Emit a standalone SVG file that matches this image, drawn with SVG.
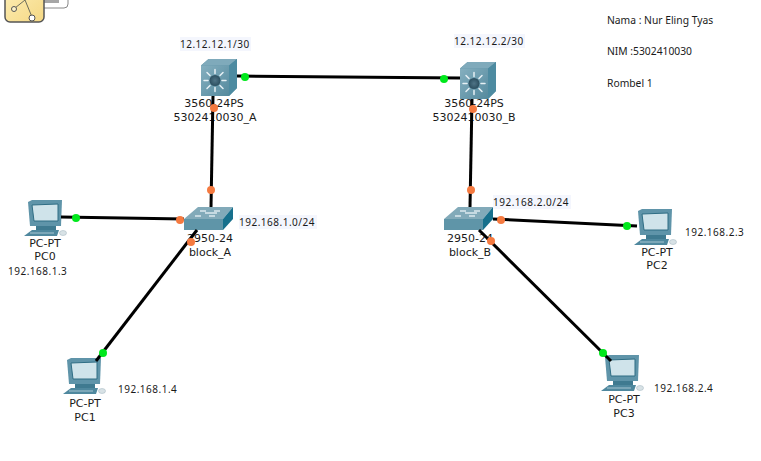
<svg xmlns="http://www.w3.org/2000/svg" width="761" height="461" viewBox="0 0 761 461">
<style>
text{font-family:"DejaVu Sans",sans-serif;font-size:11px;fill:#1a1a1a}
.m{text-anchor:middle}
.ip{font-family:"Noto Sans","DejaVu Sans",sans-serif;font-size:10px;letter-spacing:.5px}
.nt{font-family:"Noto Sans","DejaVu Sans",sans-serif;font-size:10.300px}
.ipbg{fill:#f4f6fd}
.link{stroke:#000;stroke-width:3;fill:none}
.g{fill:#00e81c}.o{fill:#f57a40}
</style>
<defs>
<linearGradient id="fr" x1="0" y1="0" x2="1" y2="1"><stop offset="0" stop-color="#85afbf"/><stop offset="1" stop-color="#558a9e"/></linearGradient>
<linearGradient id="yl" x1="0" y1="0" x2="1" y2="1"><stop offset="0" stop-color="#fdeeb5"/><stop offset="1" stop-color="#f5d884"/></linearGradient>
<radialGradient id="hub"><stop offset="0" stop-color="#4f7486"/><stop offset="1" stop-color="#2c4f60"/></radialGradient>
<g id="router">
<path d="M0 6.500L7.500 0H36V29L28 37H0Z" fill="#5c91a5"/>
<path d="M0 6.500L7.500 0H36L28 6.500Z" fill="#7faabb"/>
<path d="M28 6.500L36 0V29L28 37Z" fill="#4d8ba1"/>
<rect y="6.500" width="28" height="30.500" fill="url(#fr)"/>
<g stroke="#e6f0f4" stroke-width="1.500" stroke-linecap="round">
<path d="M14 10.500V14.500M14 28.500V32.500M3 21.500H7M21 21.500H25M6 13.500L9 16.500M19 26.500L22 29.500M22 13.500L19 16.500M9 26.500L6 29.500"/>
</g>
<circle cx="14" cy="21.500" r="5.500" fill="url(#hub)"/>
</g>
<g id="switch">
<path d="M0 12L14 0H49L39 12Z" fill="#82aab9"/>
<path d="M0 12H39V23H0Z" fill="#5f95a8"/>
<path d="M39 12L49 0V12L39 23Z" fill="#17708c"/>
<path d="M16 4H22M30 4H36M11 9H17M25 9H31M21 6L33 6" stroke="#dce9ee" stroke-width="1.400"/>
</g>
<g id="pc">
<path d="M1 2L5 0H35L34 26H3Z" fill="#5f94a9"/>
<path d="M5 5L31 4V21H7Z" fill="#cfe3ea" stroke="#2f6d84"/>
<path d="M9 26H29V30H9Z" fill="#3f7a90"/>
<path d="M5 30H32L30 36H-3Z" fill="#4f889e"/>
<path d="M3 33H27" stroke="#a9c6d2"/>
<ellipse cx="36" cy="33" rx="3.500" ry="2.500" fill="#d8e2e6" stroke="#9eb3bc" stroke-width=".5"/>
</g>
</defs>

<g id="note-icon">
<rect x="40" y="-6" width="28" height="14" rx="4" fill="#fff" stroke="#888"/>
<rect x="44" y="-4" width="15" height="7" fill="#a6a6a6"/>
<rect x="5" y="-12" width="39" height="34" rx="5" fill="url(#yl)" stroke="#555" stroke-width="1.500"/>
<path d="M15 8L25 0L32 17" fill="none" stroke="#6b6b5a"/>
<circle cx="14" cy="9" r="2.500" fill="#fdf3c8" stroke="#555"/>
<circle cx="32" cy="18" r="3" fill="#fff" stroke="#555"/>
</g>

<g id="note-text">
<text class="nt" x="607" y="24">Nama : Nur Eling Tyas</text>
<text class="nt" x="607" y="55">NIM :5302410030</text>
<text class="nt" x="607" y="87">Rombel 1</text>
</g>

<g id="router-a">
<use href="#router" x="201" y="59"/>
<text class="m" x="214" y="107">3560-24PS</text>
<text class="m" x="215" y="121">5302410030_A</text>
<rect class="ipbg" x="180" y="37" width="71" height="14"/>
<text class="ip" x="180" y="48">12.12.12.1/30</text>
</g>
<g id="router-b">
<use href="#router" x="460" y="62"/>
<text class="m" x="474" y="107">3560-24PS</text>
<text class="m" x="474" y="121">5302410030_B</text>
<rect class="ipbg" x="454" y="34" width="71" height="14"/>
<text class="ip" x="454" y="45">12.12.12.2/30</text>
</g>
<g id="switch-a">
<use href="#switch" x="184" y="207"/>
<text class="m" x="210" y="242">2950-24</text>
<text class="m" x="210" y="256">block_A</text>
<rect class="ipbg" x="239" y="215" width="78" height="14"/>
<text class="ip" x="239" y="226">192.168.1.0/24</text>
</g>
<g id="switch-b">
<use href="#switch" x="444" y="207"/>
<text class="m" x="470" y="242">2950-24</text>
<text class="m" x="470" y="256">block_B</text>
<rect class="ipbg" x="493" y="195" width="78" height="14"/>
<text class="ip" x="493" y="206">192.168.2.0/24</text>
</g>
<g id="pc0">
<use href="#pc" x="27" y="200"/>
<text class="m" x="45" y="247">PC-PT</text>
<text class="m" x="45" y="260">PC0</text>
<text class="ip" x="8" y="275">192.168.1.3</text>
</g>
<g id="pc1">
<use href="#pc" x="66" y="358"/>
<text class="m" x="85" y="407">PC-PT</text>
<text class="m" x="85" y="421">PC1</text>
<text class="ip" x="118" y="393">192.168.1.4</text>
</g>
<g id="pc2">
<use href="#pc" x="637" y="209"/>
<text class="m" x="657" y="256">PC-PT</text>
<text class="m" x="657" y="269">PC2</text>
<text class="ip" x="685" y="236">192.168.2.3</text>
</g>
<g id="pc3">
<use href="#pc" x="604" y="355"/>
<text class="m" x="624" y="403">PC-PT</text>
<text class="m" x="624" y="417">PC3</text>
<text class="ip" x="654" y="392">192.168.2.4</text>
</g>

<g id="connectors">
<path class="link" d="M237 76L460 78"/>
<path class="link" d="M213 96L211 207"/>
<path class="link" d="M472 99L470 207"/>
<path class="link" d="M61 217L184 219"/>
<path class="link" d="M197 230L96 361"/>
<path class="link" d="M493 219L637 226"/>
<path class="link" d="M479 230L611 361"/>
<circle class="g" cx="245" cy="77" r="4"/>
<circle class="g" cx="444" cy="79" r="4"/>
<circle class="g" cx="76" cy="218" r="4"/>
<circle class="g" cx="103" cy="353" r="4"/>
<circle class="g" cx="627" cy="226" r="4"/>
<circle class="g" cx="603" cy="353" r="4"/>
<circle class="o" cx="214" cy="108" r="4"/>
<circle class="o" cx="473" cy="109" r="4"/>
<circle class="o" cx="211" cy="190" r="4"/>
<circle class="o" cx="471" cy="190" r="4"/>
<circle class="o" cx="180" cy="220" r="4"/>
<circle class="o" cx="191" cy="242" r="4"/>
<circle class="o" cx="501" cy="220" r="4"/>
<circle class="o" cx="491" cy="241" r="4"/>
</g>
</svg>
